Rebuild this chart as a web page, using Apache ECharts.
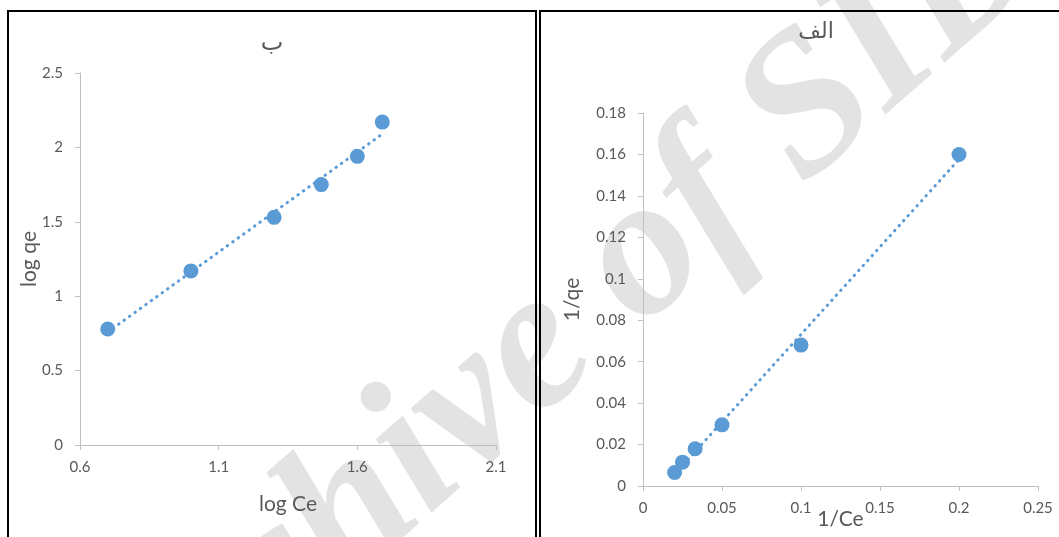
<!DOCTYPE html>
<html>
<head>
<meta charset="utf-8">
<script src="https://cdn.jsdelivr.net/npm/echarts@6/dist/echarts.min.js"></script>
<style>
html,body{margin:0;padding:0;background:#fff;}
#c{width:1059px;height:537px;}
</style>
</head>
<body>
<div id="c"></div>
<script>
// ---- data ----
const logCe = [0.70, 1.00, 1.30, 1.47, 1.60, 1.69];
const logQe = [0.78, 1.17, 1.53, 1.75, 1.94, 2.17];
const invCe = [0.02, 0.025, 0.033, 0.05, 0.1, 0.2];
const invQe = [0.0065, 0.0115, 0.018, 0.0295, 0.068, 0.16];
const leftXRange = [0.6, 2.1, 0.5];
const leftYRange = [0, 2.5, 0.5];
const rightXRange = [0, 0.25, 0.05];
const rightYRange = [0, 0.18, 0.02];
const titles = ['ب', 'الف'];
const axisNames = ['log Ce', 'log qe', '1/Ce', '1/qe'];

function linFit(xs, ys) {
  const n = xs.length;
  const mx = xs.reduce((a, b) => a + b, 0) / n;
  const my = ys.reduce((a, b) => a + b, 0) / n;
  let sxy = 0, sxx = 0;
  for (let i = 0; i < n; i++) { sxy += (xs[i] - mx) * (ys[i] - my); sxx += (xs[i] - mx) ** 2; }
  const b = sxy / sxx, a = my - b * mx;
  const x0 = Math.min(...xs), x1 = Math.max(...xs);
  return [[x0, a + b * x0], [x1, a + b * x1]];
}
const pairs = (xs, ys) => xs.map((x, i) => [x, ys[i]]);

const BLUE = '#5b9bd5';
const TXT = '#595959';
const AX = '#bfbfbf';
const FONT = 'Lato';

function xAx(gi, r, name, gap) {
  return {
    type: 'value', gridIndex: gi, min: r[0], max: r[1], interval: r[2],
    splitLine: { show: false },
    axisLine: { show: true, onZero: false, lineStyle: { color: AX, width: 1 } },
    axisTick: { show: true, length: 5, lineStyle: { color: AX } },
    axisLabel: { color: TXT, fontSize: 15, fontFamily: FONT, margin: 15,
      formatter: v => String(+v.toFixed(4)) },
    name: name, nameLocation: 'middle', nameGap: gap, nameMoveOverlap: false,
    nameTextStyle: { color: TXT, fontSize: 21, fontFamily: FONT }
  };
}
function yAx(gi, r, name, gap) {
  return {
    type: 'value', gridIndex: gi, min: r[0], max: r[1], interval: r[2],
    splitLine: { show: false },
    axisLine: { show: true, onZero: false, lineStyle: { color: AX, width: 1 } },
    axisTick: { show: true, length: 5, lineStyle: { color: AX } },
    axisLabel: { color: TXT, fontSize: 15, fontFamily: FONT, margin: 17,
      formatter: v => String(+v.toFixed(4)) },
    name: name, nameLocation: 'middle', nameGap: gap, nameRotate: 90, nameMoveOverlap: false,
    nameTextStyle: { color: TXT, fontSize: 21, fontFamily: FONT }
  };
}

const trendStyle = { color: BLUE, width: 3, type: [0.5, 6.2], cap: 'round' };

const chart = echarts.init(document.getElementById('c'), null, { renderer: 'canvas' });
chart.setOption({
  animation: false,
  backgroundColor: '#ffffff',
  grid: [
    { left: 80, top: 73, width: 416, height: 372, outerBoundsMode: 'none', containLabel: false },
    { left: 643, top: 113, width: 395, height: 373, outerBoundsMode: 'none', containLabel: false }
  ],
  xAxis: [xAx(0, leftXRange, axisNames[0], 49), xAx(1, rightXRange, axisNames[2], 23)],
  yAxis: [yAx(0, leftYRange, axisNames[1], 40), yAx(1, rightYRange, axisNames[3], 60)],
  graphic: [
    { type: 'text', x: 552, y: 338, rotation: 0.72, z: -10, silent: true,
      style: { text: 'Archive of SID', fontSize: 200, fontFamily: 'Liberation Serif',
        fontWeight: 'bold', fontStyle: 'italic', fill: '#e3e3e3', align: 'center', verticalAlign: 'middle' } },
    { type: 'rect', shape: { x: 8, y: 11, width: 528, height: 600 }, z: 100, silent: true,
      style: { fill: 'none', stroke: '#000', lineWidth: 2 } },
    { type: 'rect', shape: { x: 540, y: 11, width: 600, height: 600 }, z: 100, silent: true,
      style: { fill: 'none', stroke: '#000', lineWidth: 2 } },
    { type: 'text', x: 272, y: 44, z: 100,
      style: { text: titles[0], fontSize: 24, fontFamily: 'DejaVu Sans', fill: TXT, align: 'center', verticalAlign: 'middle' } },
    { type: 'text', x: 816, y: 32, z: 100,
      style: { text: titles[1], fontSize: 22, fontFamily: 'DejaVu Sans', fill: TXT, align: 'center', verticalAlign: 'middle' } }
  ],
  series: [
    { type: 'scatter', xAxisIndex: 0, yAxisIndex: 0, data: pairs(logCe, logQe),
      symbolSize: 15, itemStyle: { color: BLUE, opacity: 1 }, z: 3 },
    { type: 'line', xAxisIndex: 0, yAxisIndex: 0, data: linFit(logCe, logQe),
      showSymbol: false, lineStyle: trendStyle, z: 4 },
    { type: 'scatter', xAxisIndex: 1, yAxisIndex: 1, data: pairs(invCe, invQe),
      symbolSize: 15, itemStyle: { color: BLUE, opacity: 1 }, z: 3 },
    { type: 'line', xAxisIndex: 1, yAxisIndex: 1, data: linFit(invCe, invQe),
      showSymbol: false, lineStyle: trendStyle, z: 4 }
  ]
});
</script>
</body>
</html>
